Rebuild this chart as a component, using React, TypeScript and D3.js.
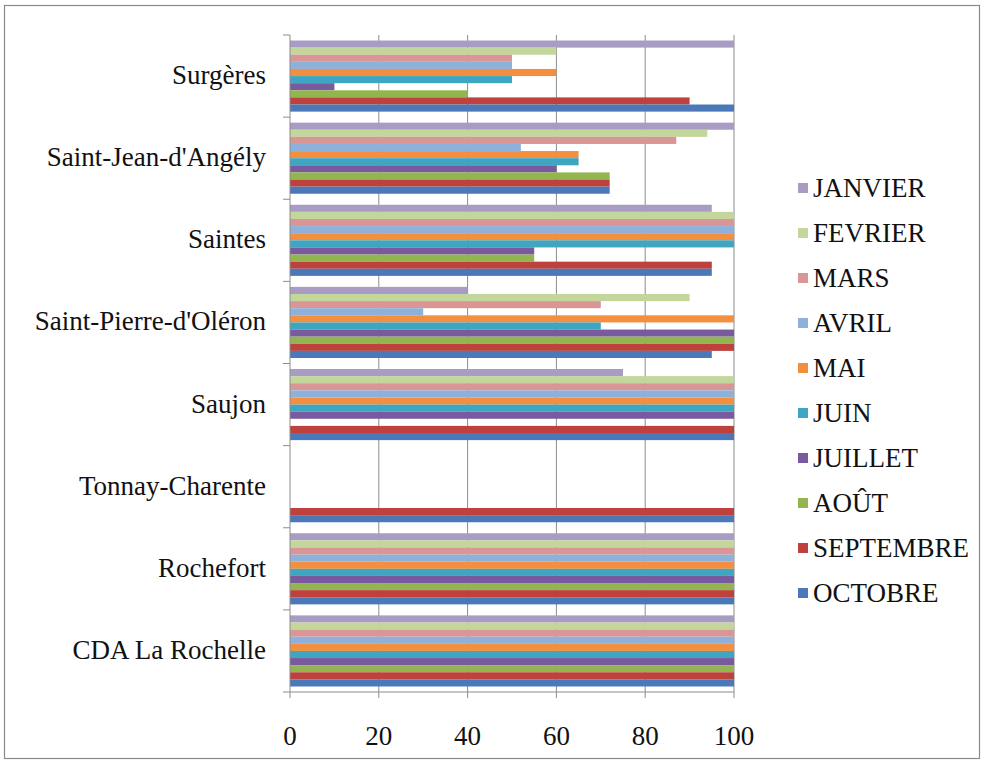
import React from "react";
import * as d3 from "d3";

const categories = [
  "Surgères",
  "Saint-Jean-d'Angély",
  "Saintes",
  "Saint-Pierre-d'Oléron",
  "Saujon",
  "Tonnay-Charente",
  "Rochefort",
  "CDA La Rochelle",
];

const seriesNames = ["JANVIER", "FEVRIER", "MARS", "AVRIL", "MAI", "JUIN", "JUILLET", "AOÛT", "SEPTEMBRE", "OCTOBRE"];
const seriesColors = ["#A99CC4", "#C3D69B", "#D99694", "#8EB1DC", "#F38F3E", "#3FA6C1", "#7A5A9E", "#92B54F", "#BE413D", "#4A78B8"];

// values per category, in series order (JANVIER..OCTOBRE)
const surgeres = [100, 60, 50, 50, 60, 50, 10, 40, 90, 100];
const saintJean = [100, 94, 87, 52, 65, 65, 60, 72, 72, 72];
const saintes = [95, 100, 100, 100, 100, 100, 55, 55, 95, 95];
const saintPierre = [40, 90, 70, 30, 100, 70, 100, 100, 100, 95];
const saujon = [75, 100, 100, 100, 100, 100, 100, 0, 100, 100];
const tonnay = [0, 0, 0, 0, 0, 0, 0, 0, 100, 100];
const rochefort = [100, 100, 100, 100, 100, 100, 100, 100, 100, 100];
const laRochelle = [100, 100, 100, 100, 100, 100, 100, 100, 100, 100];
const values = [surgeres, saintJean, saintes, saintPierre, saujon, tonnay, rochefort, laRochelle];

const xTicks = [0, 20, 40, 60, 80, 100];

export default function App() {
  const W = 985, H = 771;
  const left = 290, right = 734, top = 35, bottom = 692;
  const x = d3.scaleLinear().domain([0, 100]).range([left, right]);
  const y = d3.scaleBand<string>().domain(categories).range([top, bottom]).paddingInner(0.134).paddingOuter(0.067);
  const yi = d3.scaleBand<string>().domain(seriesNames).range([0, y.bandwidth()]);
  const step = (bottom - top) / categories.length;
  const font = "'Liberation Serif', 'Times New Roman', serif";
  const fs = 27;
  const legendY = d3.scaleLinear().domain([0, 9]).range([197, 602]);

  return (
    <svg width={W} height={H} style={{ position: "absolute", left: 0, top: 0, background: "#fff" }}>
      <rect x={4.5} y={5.5} width={975} height={753} fill="#fff" stroke="#8a8a8a" strokeWidth={1.2} />
      {/* gridlines */}
      {xTicks.slice(1).map((t) => (
        <line key={t} x1={x(t)} x2={x(t)} y1={top} y2={bottom} stroke="#8c8c8c" strokeWidth={1} />
      ))}
      {/* bars */}
      {categories.map((c, ci) => (
        <g key={c} transform={`translate(0,${y(c)})`}>
          {seriesNames.map((s, si) =>
            values[ci][si] > 0 ? (
              <rect key={s} x={x(0)} y={yi(s)} width={x(values[ci][si]) - x(0)} height={yi.bandwidth()} fill={seriesColors[si]} />
            ) : null
          )}
        </g>
      ))}
      {/* axes */}
      <line x1={left} x2={left} y1={top} y2={bottom} stroke="#8c8c8c" />
      <line x1={left} x2={right} y1={bottom} y2={bottom} stroke="#8c8c8c" />
      {d3.range(categories.length + 1).map((i) => (
        <line key={i} x1={left - 7} x2={left} y1={top + i * step} y2={top + i * step} stroke="#8c8c8c" />
      ))}
      {xTicks.map((t) => (
        <g key={t}>
          <line x1={x(t)} x2={x(t)} y1={bottom} y2={bottom + 6} stroke="#8c8c8c" />
          <text x={x(t)} y={745} textAnchor="middle" fontFamily={font} fontSize={fs} fill="#111">{t}</text>
        </g>
      ))}
      {categories.map((c) => (
        <text key={c} x={266} y={(y(c) as number) + y.bandwidth() / 2 + 8} textAnchor="end" fontFamily={font} fontSize={fs} fill="#111">{c}</text>
      ))}
      {/* legend */}
      {seriesNames.map((s, i) => (
        <g key={s}>
          <rect x={798} y={legendY(i) - 14} width={10} height={10} fill={seriesColors[i]} />
          <text x={813} y={legendY(i)} fontFamily={font} fontSize={fs} fill="#111">{s}</text>
        </g>
      ))}
    </svg>
  );
}
